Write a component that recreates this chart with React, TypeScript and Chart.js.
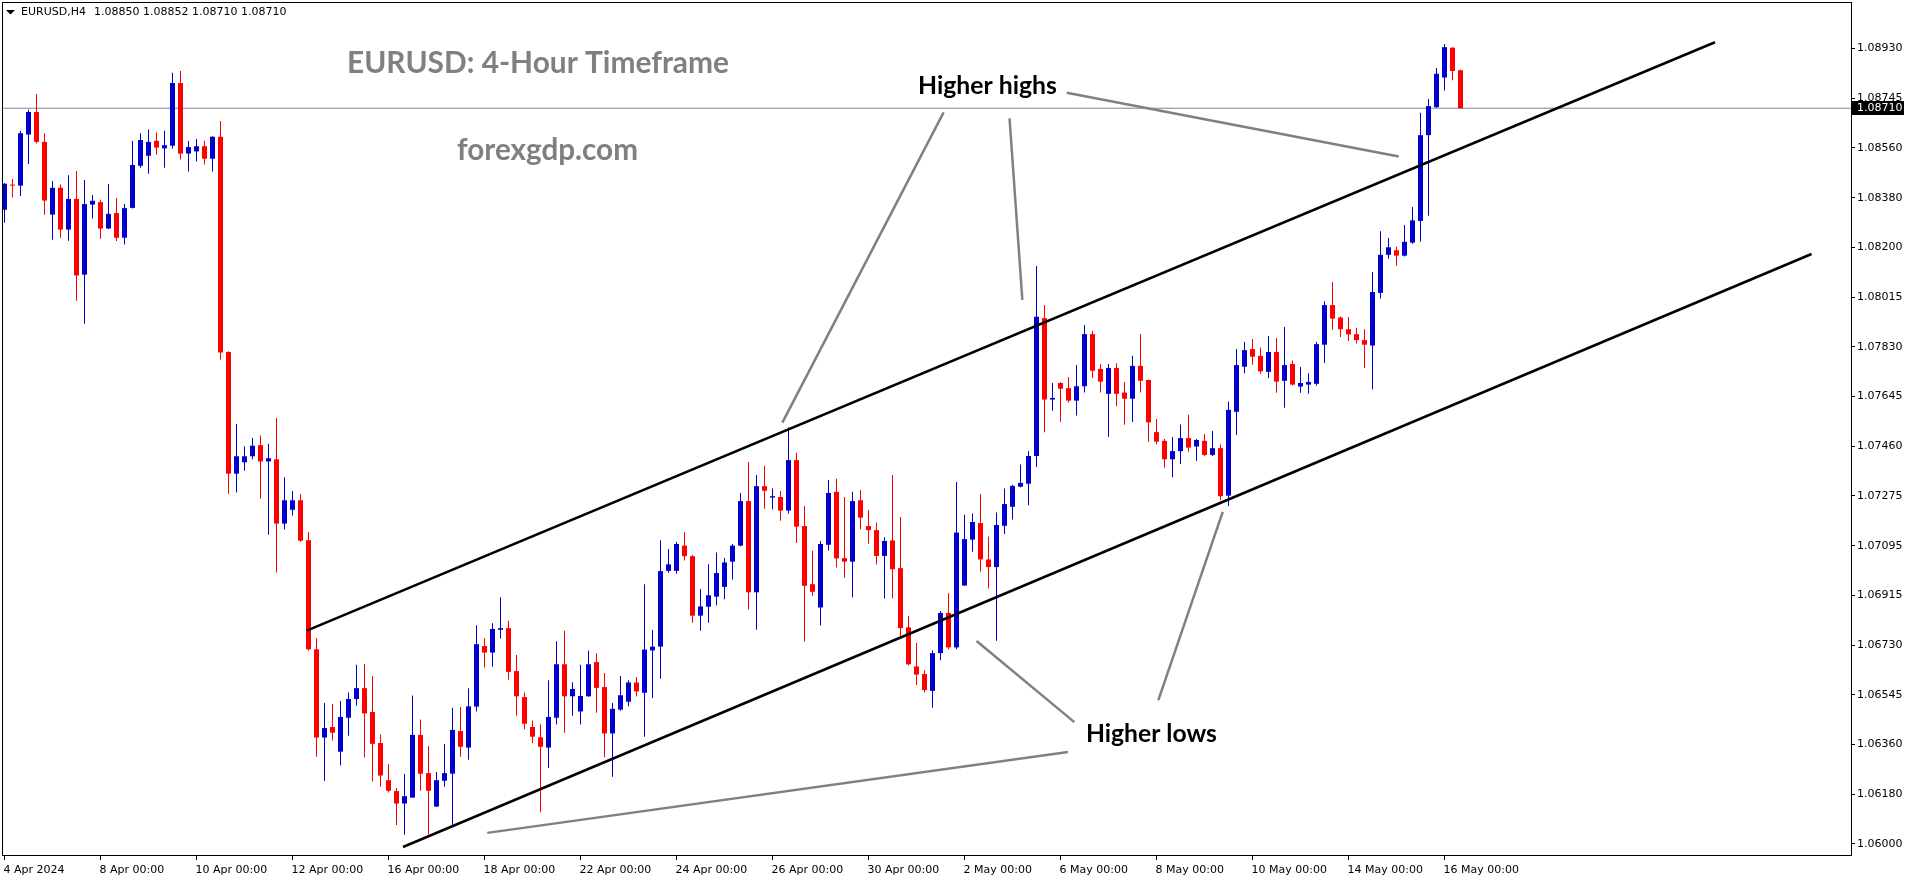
import React, { useEffect, useRef } from "react";
import { Chart, registerables } from "chart.js";

Chart.register(...registerables);

// ---- Candle data (EURUSD H4), one entry per 4-hour bar, oldest first ----
const opens = [
  1.08336, 1.08428, 1.08425, 1.08613, 1.08696, 1.08586, 1.08318, 1.08417, 1.08263, 1.08376,
  1.08097, 1.08355, 1.08364, 1.08267, 1.08324, 1.08233, 1.08343, 1.08498, 1.08535, 1.0859,
  1.08562, 1.08572, 1.08803, 1.08543, 1.08551, 1.0857, 1.08524, 1.08605, 1.07812, 1.07364,
  1.07406, 1.07428, 1.07469, 1.07409, 1.07417, 1.0718, 1.07231, 1.07266, 1.07119, 1.06717,
  1.06392, 1.06431, 1.0634, 1.06465, 1.06534, 1.06574, 1.06486, 1.06372, 1.06235, 1.06195,
  1.06149, 1.06171, 1.06402, 1.06261, 1.06138, 1.06233, 1.06259, 1.06416, 1.06355, 1.06506,
  1.06729, 1.06705, 1.06789, 1.06795, 1.06637, 1.06541, 1.06431, 1.06393, 1.06355, 1.06465,
  1.06662, 1.06544, 1.06488, 1.06544, 1.0667, 1.06578, 1.06407, 1.06495, 1.06524, 1.06595,
  1.06557, 1.06713, 1.06727, 1.07006, 1.07006, 1.07099, 1.0706, 1.06841, 1.06874, 1.06911,
  1.06947, 1.0704, 1.07099, 1.07263, 1.06927, 1.07318, 1.07276, 1.07278, 1.07228, 1.07414,
  1.07171, 1.06957, 1.06871, 1.07102, 1.07297, 1.07053, 1.0704, 1.07266, 1.07171, 1.07156,
  1.07061, 1.07118, 1.07016, 1.06798, 1.06654, 1.06626, 1.06564, 1.06703, 1.06851, 1.06724,
  1.06952, 1.07121, 1.07182, 1.07048, 1.0702, 1.07172, 1.07242, 1.07316, 1.07327, 1.07429,
  1.07937, 1.07637, 1.07698, 1.07679, 1.07633, 1.07686, 1.07878, 1.0775, 1.07658, 1.07753,
  1.07663, 1.0764, 1.07761, 1.07709, 1.07517, 1.07485, 1.07417, 1.07447, 1.07495, 1.07464,
  1.07485, 1.07433, 1.07458, 1.07283, 1.07592, 1.07758, 1.07823, 1.07798, 1.07739, 1.07812,
  1.07706, 1.07768, 1.07685, 1.07692, 1.07695, 1.07839, 1.07985, 1.07939, 1.07896, 1.07878,
  1.07856, 1.07836, 1.0803, 1.0817, 1.08187, 1.08167, 1.08215, 1.08295, 1.08611, 1.08714,
  1.08823, 1.08933, 1.0885,
];
const highs = [
  1.08435, 1.08449, 1.08627, 1.08704, 1.08762, 1.08618, 1.08442, 1.08429, 1.08463, 1.08479,
  1.08446, 1.0839, 1.08373, 1.08431, 1.0838, 1.08357, 1.0859, 1.08618, 1.08632, 1.08621,
  1.08627, 1.08841, 1.08847, 1.0859, 1.08597, 1.0859, 1.08607, 1.08663, 1.07815, 1.07547,
  1.07465, 1.07495, 1.07505, 1.07474, 1.07569, 1.07351, 1.073, 1.0729, 1.07149, 1.06758,
  1.06519, 1.06516, 1.06527, 1.06558, 1.0666, 1.06663, 1.06619, 1.06403, 1.06295, 1.06206,
  1.06258, 1.06547, 1.06459, 1.06361, 1.06265, 1.06368, 1.06502, 1.06505, 1.06574, 1.06806,
  1.06758, 1.06813, 1.06909, 1.06822, 1.06696, 1.06558, 1.06455, 1.06441, 1.06603, 1.06747,
  1.06785, 1.06596, 1.0666, 1.06713, 1.06703, 1.0663, 1.06519, 1.06619, 1.06603, 1.06615,
  1.06957, 1.06788, 1.07119, 1.07087, 1.07112, 1.07149, 1.07064, 1.06939, 1.0703, 1.07074,
  1.07053, 1.07105, 1.07293, 1.07407, 1.07359, 1.07393, 1.07309, 1.073, 1.07534, 1.07441,
  1.07245, 1.0708, 1.07116, 1.07341, 1.07345, 1.07278, 1.07297, 1.07304, 1.07231, 1.07184,
  1.0713, 1.07359, 1.07204, 1.0684, 1.06741, 1.0664, 1.06714, 1.06858, 1.06924, 1.07333,
  1.07213, 1.07217, 1.0729, 1.07133, 1.07221, 1.07309, 1.07323, 1.07398, 1.07447, 1.08129,
  1.07985, 1.07698, 1.07701, 1.0772, 1.07764, 1.07912, 1.0789, 1.07768, 1.07768, 1.07771,
  1.07702, 1.07798, 1.07878, 1.07711, 1.07565, 1.07492, 1.07499, 1.07545, 1.07581, 1.07492,
  1.0751, 1.07521, 1.07471, 1.07629, 1.07823, 1.07849, 1.0786, 1.07829, 1.07871, 1.07864,
  1.07904, 1.07781, 1.07757, 1.07734, 1.07849, 1.07999, 1.0807, 1.07944, 1.07941, 1.07901,
  1.07896, 1.08107, 1.08257, 1.08232, 1.082, 1.0828, 1.08346, 1.08693, 1.08744, 1.08858,
  1.08947, 1.08935, 1.08852,
];
const lows = [
  1.08288, 1.08381, 1.08387, 1.08505, 1.0858, 1.08318, 1.08226, 1.08233, 1.08222, 1.08001,
  1.07916, 1.08304, 1.08229, 1.08265, 1.08221, 1.08208, 1.08341, 1.08491, 1.08469, 1.08539,
  1.08491, 1.08562, 1.08521, 1.08477, 1.08514, 1.08503, 1.08477, 1.07784, 1.0729, 1.07295,
  1.07375, 1.07417, 1.07272, 1.07139, 1.07, 1.07158, 1.0721, 1.07113, 1.06713, 1.06321,
  1.06233, 1.06381, 1.06289, 1.06399, 1.06509, 1.06319, 1.0623, 1.06211, 1.0619, 1.0607,
  1.06034, 1.06169, 1.06196, 1.06034, 1.06136, 1.06211, 1.06068, 1.06321, 1.0631, 1.06488,
  1.0665, 1.06653, 1.06757, 1.06605, 1.06472, 1.06423, 1.06371, 1.06117, 1.0628, 1.0644,
  1.0641, 1.06472, 1.0644, 1.06542, 1.06483, 1.06319, 1.06248, 1.06491, 1.06507, 1.06543,
  1.06395, 1.06538, 1.06609, 1.06999, 1.06995, 1.07044, 1.06815, 1.06785, 1.06815, 1.06878,
  1.06901, 1.06974, 1.07097, 1.06864, 1.06789, 1.07235, 1.07232, 1.07191, 1.07216, 1.07109,
  1.06746, 1.06913, 1.06805, 1.07081, 1.07018, 1.06981, 1.06908, 1.07159, 1.07106, 1.07029,
  1.06904, 1.06904, 1.06765, 1.06657, 1.06586, 1.06558, 1.06502, 1.06677, 1.06717, 1.06717,
  1.0695, 1.07076, 1.07003, 1.06941, 1.06749, 1.07142, 1.07195, 1.07313, 1.07248, 1.07389,
  1.07517, 1.07596, 1.07555, 1.07626, 1.07578, 1.07663, 1.07715, 1.07663, 1.075, 1.07612,
  1.07544, 1.07554, 1.07663, 1.07482, 1.07472, 1.07386, 1.07351, 1.074, 1.07445, 1.07412,
  1.07429, 1.07429, 1.07266, 1.07245, 1.07506, 1.07734, 1.07765, 1.07732, 1.07716, 1.07662,
  1.07607, 1.07689, 1.07662, 1.07658, 1.07688, 1.07772, 1.07894, 1.07867, 1.07853, 1.07843,
  1.07753, 1.07674, 1.08009, 1.08156, 1.0813, 1.08164, 1.08211, 1.08218, 1.08314, 1.08711,
  1.08775, 1.08813, 1.0871,
];
const closes = [
  1.08432, 1.08425, 1.08618, 1.08696, 1.08586, 1.0837, 1.08417, 1.08263, 1.08376, 1.08094,
  1.08357, 1.08369, 1.08267, 1.08321, 1.08233, 1.08342, 1.08501, 1.08593, 1.08586, 1.08565,
  1.08574, 1.08803, 1.08543, 1.08567, 1.0857, 1.08524, 1.08605, 1.0781, 1.07364, 1.07428,
  1.07428, 1.07467, 1.07409, 1.07421, 1.0718, 1.07266, 1.07266, 1.07117, 1.06717, 1.06392,
  1.06427, 1.0641, 1.06468, 1.06534, 1.06574, 1.06481, 1.06369, 1.06252, 1.06196, 1.06149,
  1.06176, 1.06402, 1.06259, 1.06196, 1.06235, 1.06261, 1.0642, 1.06358, 1.06507, 1.06736,
  1.06705, 1.06792, 1.06795, 1.06634, 1.06544, 1.06443, 1.06395, 1.06358, 1.06468, 1.06662,
  1.06544, 1.06571, 1.06545, 1.06662, 1.06575, 1.06407, 1.06498, 1.06548, 1.06595, 1.06562,
  1.06716, 1.06727, 1.07005, 1.0703, 1.07105, 1.0706, 1.06841, 1.06875, 1.06916, 1.06998,
  1.07037, 1.07099, 1.07263, 1.06927, 1.07318, 1.07301, 1.07281, 1.07228, 1.07414, 1.07169,
  1.06951, 1.06929, 1.07105, 1.07293, 1.07052, 1.0704, 1.07263, 1.07202, 1.07156, 1.07061,
  1.07116, 1.07012, 1.06795, 1.06662, 1.06624, 1.06567, 1.06703, 1.06851, 1.06724, 1.07147,
  1.07123, 1.07186, 1.07048, 1.0702, 1.07175, 1.07252, 1.07319, 1.0733, 1.07429, 1.07942,
  1.07637, 1.07643, 1.07677, 1.07633, 1.07686, 1.07878, 1.07743, 1.07703, 1.07753, 1.07658,
  1.0764, 1.07761, 1.07706, 1.07553, 1.07482, 1.07417, 1.07447, 1.07495, 1.0746, 1.07488,
  1.07433, 1.07458, 1.07281, 1.07599, 1.07764, 1.07819, 1.07795, 1.07741, 1.07812, 1.07703,
  1.07764, 1.07692, 1.07698, 1.07702, 1.07841, 1.07985, 1.07935, 1.07896, 1.07877, 1.07856,
  1.07839, 1.08033, 1.0817, 1.08198, 1.08167, 1.08218, 1.08297, 1.08611, 1.08718, 1.08837,
  1.08935, 1.08847, 1.0871,
];

// ---- Axis ticks ----
const xTickIndex = [1, 13, 25, 37, 49, 61, 73, 85, 97, 109, 121, 133, 145, 157, 169, 181];
const xTickLabels = [
  "4 Apr 2024", "8 Apr 00:00", "10 Apr 00:00", "12 Apr 00:00", "16 Apr 00:00", "18 Apr 00:00",
  "22 Apr 00:00", "24 Apr 00:00", "26 Apr 00:00", "30 Apr 00:00", "2 May 00:00", "6 May 00:00",
  "8 May 00:00", "10 May 00:00", "14 May 00:00", "16 May 00:00",
];
const yTickLabels = [
  "1.06000", "1.06180", "1.06360", "1.06545", "1.06730", "1.06915", "1.07095", "1.07275",
  "1.07460", "1.07645", "1.07830", "1.08015", "1.08200", "1.08380", "1.08560", "1.08745", "1.08930",
];
const yTickFirst = 1.06;
const yTickLast = 1.0893;

// ---- Drawn objects (bar index, price) ----
const channelUpper = [[38.78, 1.06786], [214.81, 1.08953]];
const channelLower = [[50.81, 1.05989], [226.88, 1.08173]];
const higherHighPointers = [
  [[118.39, 1.08695], [98.23, 1.07552]],
  [[126.63, 1.08673], [128.23, 1.08004]],
  [[133.78, 1.08767], [175.28, 1.08532]],
];
const higherLowPointers = [
  [[122.51, 1.06748], [134.73, 1.06449]],
  [[153.28, 1.07223], [145.23, 1.0653]],
  [[61.35, 1.06041], [133.94, 1.06339]],
];
const symbolLabel = "EURUSD,H4";
const titleText = "EURUSD: 4-Hour Timeframe";
const siteText = "forexgdp.com";
const highsText = "Higher highs";
const lowsText = "Higher lows";

const BLUE = "#0000CD";
const RED = "#FF0000";
const GRAY = "#808080";
const AXIS_FONT = "DejaVu Sans";

export default function App() {
  const ref = useRef<HTMLCanvasElement | null>(null);

  useEffect(() => {
    document.body.style.margin = "0";
    document.body.style.overflow = "hidden";
    const canvas = ref.current;
    if (!canvas) return;
    const n = opens.length;
    const last = n - 1;
    const colors = opens.map((o, i) => (closes[i] > o ? BLUE : RED));
    const xMin = 0.6875;
    const xMax = 231.8125;
    const yMin = 1.0595947;
    const yMax = 1.0910127;

    const lineDs = (pts: number[][], color: string, width: number, order: number): any => ({
      type: "line",
      data: pts.map(([x, y]) => ({ x, y })),
      borderColor: color,
      borderWidth: width,
      pointRadius: 0,
      pointHoverRadius: 0,
      fill: false,
      tension: 0,
      order,
    });

    const fitText = (ctx: CanvasRenderingContext2D, text: string, x: number, y: number, width: number, color: string) => {
      ctx.font = "bold 100px Lato";
      const w = ctx.measureText(text).width;
      const size = (100 * width) / w;
      ctx.font = `bold ${size.toFixed(2)}px Lato`;
      ctx.fillStyle = color;
      ctx.textAlign = "left";
      ctx.textBaseline = "alphabetic";
      ctx.fillText(text, x, y);
    };

    const mt4Plugin: any = {
      id: "mt4Decor",
      afterDraw(chart: any) {
        const ctx: CanvasRenderingContext2D = chart.ctx;
        const a = chart.chartArea;
        const ys = chart.scales.y;
        ctx.save();
        // frame
        ctx.strokeStyle = "#000";
        ctx.lineWidth = 1;
        ctx.strokeRect(a.left + 0.5, a.top + 0.5, a.right - a.left, a.bottom - a.top);
        // header
        ctx.fillStyle = "#000";
        ctx.beginPath();
        ctx.moveTo(a.left + 4, a.top + 8);
        ctx.lineTo(a.left + 13, a.top + 8);
        ctx.lineTo(a.left + 8.5, a.top + 12.5);
        ctx.closePath();
        ctx.fill();
        ctx.font = `11px "${AXIS_FONT}"`;
        ctx.textBaseline = "middle";
        ctx.textAlign = "left";
        ctx.fillText(symbolLabel, a.left + 19, a.top + 10.5);
        const ohlc = [opens[last], highs[last], lows[last], closes[last]].map((v) => v.toFixed(5)).join(" ");
        ctx.fillText(ohlc, a.left + 92, a.top + 10.5);
        // annotation texts
        fitText(ctx, titleText, 347, 73, 382, GRAY);
        fitText(ctx, siteText, 457, 160, 181, GRAY);
        fitText(ctx, highsText, 918, 94, 139, "#000");
        fitText(ctx, lowsText, 1086, 742, 131, "#000");
        // current price tag
        const py = Math.round(ys.getPixelForValue(closes[last]));
        ctx.fillStyle = "#000";
        ctx.fillRect(a.right + 1, py - 7, 52, 14);
        ctx.fillStyle = "#fff";
        ctx.font = `11px "${AXIS_FONT}"`;
        ctx.textBaseline = "middle";
        ctx.fillText(closes[last].toFixed(5), a.right + 6, py + 0.5);
        ctx.restore();
      },
    };

    const datasets: any[] = [
      ...higherHighPointers.map((p) => lineDs(p, GRAY, 2.5, 0)),
      ...higherLowPointers.map((p) => lineDs(p, GRAY, 2.5, 0)),
      lineDs(channelUpper, "#000", 2.5, 1),
      lineDs(channelLower, "#000", 2.5, 1),
      {
        type: "bar",
        data: opens.map((o, i) => ({ x: i + 1, y: [o, closes[i]] })),
        backgroundColor: colors,
        borderWidth: 0,
        barThickness: 5,
        minBarLength: 1,
        grouped: false,
        inflateAmount: 0,
        order: 4,
      },
      {
        type: "bar",
        data: lows.map((l, i) => ({ x: i + 1, y: [l, highs[i]] })),
        backgroundColor: colors,
        borderWidth: 0,
        barThickness: 1,
        grouped: false,
        inflateAmount: 0,
        order: 5,
      },
      {
        ...lineDs([[xMin, closes[last]], [xMax, closes[last]]], "#778899", 1, 10),
      },
    ];

    const chart = new Chart(canvas, {
      type: "bar",
      data: { datasets },
      options: {
        responsive: false,
        animation: false,
        devicePixelRatio: 1,
        events: [],
        layout: { padding: { left: 2, top: 2, right: 0, bottom: 0 } },
        plugins: { legend: { display: false }, tooltip: { enabled: false }, title: { display: false } },
        scales: {
          x: {
            type: "linear",
            min: xMin,
            max: xMax,
            offset: false,
            afterBuildTicks: (s: any) => {
              s.ticks = xTickIndex.map((v) => ({ value: v }));
            },
            afterFit: (s: any) => {
              s.height = 29;
              s.paddingLeft = 0;
              s.paddingRight = 0;
            },
            ticks: {
              autoSkip: false,
              maxRotation: 0,
              minRotation: 0,
              align: "start",
              labelOffset: -1,
              padding: 4,
              color: "#000",
              font: { family: AXIS_FONT, size: 11 },
              callback: (_v: any, i: number) => xTickLabels[i],
            },
            grid: { display: true, drawOnChartArea: false, drawTicks: true, tickLength: 5, color: "#000", offset: false },
            border: { display: true, color: "#000", width: 1 },
          },
          y: {
            type: "linear",
            position: "right",
            min: yMin,
            max: yMax,
            afterBuildTicks: (s: any) => {
              const step = (yTickLast - yTickFirst) / (yTickLabels.length - 1);
              s.ticks = yTickLabels.map((_, k) => ({ value: yTickFirst + k * step }));
            },
            afterFit: (s: any) => {
              s.width = 63;
              s.paddingTop = 0;
              s.paddingBottom = 0;
            },
            ticks: {
              autoSkip: false,
              padding: 2,
              color: "#000",
              font: { family: AXIS_FONT, size: 11 },
              callback: (_v: any, i: number) => yTickLabels[i],
            },
            grid: { display: true, drawOnChartArea: false, drawTicks: true, tickLength: 4, color: "#000" },
            border: { display: true, color: "#000", width: 1 },
          },
        },
      } as any,
      plugins: [mt4Plugin],
    });

    return () => chart.destroy();
  }, []);

  return (
    <div style={{ width: 1914, height: 884, position: "relative", background: "#fff" }}>
      <canvas ref={ref} width={1914} height={884} style={{ display: "block" }} />
    </div>
  );
}
